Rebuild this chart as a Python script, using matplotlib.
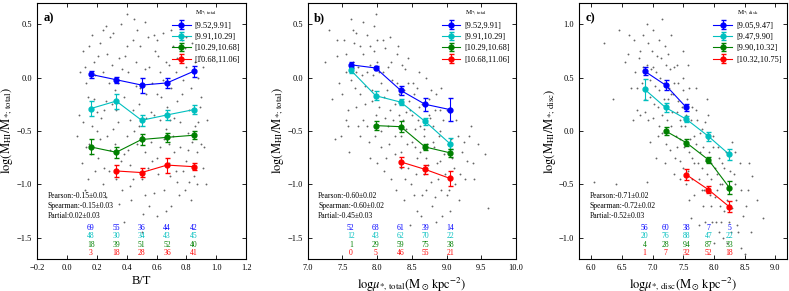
import matplotlib
matplotlib.use('Agg')
import matplotlib.pyplot as plt
import numpy as np

plt.rcParams['font.family'] = ['Liberation Serif', 'DejaVu Serif']
plt.rcParams['mathtext.fontset'] = 'stix'

colors = ['b', 'c', 'g', 'r']

# panel a: B/T
bins_a = [0.16, 0.33, 0.50, 0.67, 0.85]
labels_a = ['[9.52,9.91]', '[9.91,10.29]', '[10.29,10.68]', '[10.68,11.06]']
y_a = [[0.03, -0.02, -0.07, -0.05, 0.06],
       [-0.29, -0.22, -0.40, -0.35, -0.30],
       [-0.65, -0.70, -0.58, -0.56, -0.54],
       [np.nan, -0.875, -0.89, -0.82, -0.835]]
e_a = [[0.03, 0.03, 0.07, 0.05, 0.05],
       [0.07, 0.07, 0.05, 0.05, 0.04],
       [0.07, 0.05, 0.05, 0.04, 0.04],
       [0, 0.06, 0.04, 0.07, 0.03]]
n_a = [[69, 55, 36, 44, 42], [48, 30, 34, 43, 45], [18, 39, 51, 52, 40], [3, 18, 28, 36, 41]]
stats_a = ['Pearson:-0.15±0.03', 'Spearman:-0.15±0.03', 'Partial:0.02±0.03']

# panel b: log mu total
bins_b = [7.62, 7.98, 8.34, 8.69, 9.05]
labels_b = labels_a
y_b = [[0.12, 0.09, -0.12, -0.25, -0.30],
       [0.07, -0.17, -0.23, -0.41, -0.62],
       [np.nan, -0.45, -0.46, -0.65, -0.705],
       [np.nan, np.nan, -0.79, -0.86, -0.945]]
e_b = [[0.03, 0.02, 0.04, 0.06, 0.11],
       [0.03, 0.04, 0.03, 0.03, 0.05],
       [0, 0.04, 0.05, 0.03, 0.04],
       [0, 0, 0.05, 0.04, 0.07]]
n_b = [[52, 68, 61, 39, 14], [12, 43, 62, 70, 22], [1, 29, 59, 75, 38], [0, 5, 46, 55, 21]]
stats_b = ['Pearson:-0.60±0.02', 'Spearman:-0.60±0.02', 'Partial:-0.45±0.03']

# panel c: log mu disc
bins_c = [6.87, 7.21, 7.55, 7.91, 8.25]
labels_c = ['[9.05,9.47]', '[9.47,9.90]', '[9.90,10.32]', '[10.32,10.75]']
y_c = [[0.56, 0.43, 0.22, np.nan, np.nan],
       [0.39, 0.22, 0.11, -0.05, -0.22],
       [np.nan, 0.0, -0.11, -0.27, -0.53],
       [np.nan, np.nan, -0.41, -0.55, -0.71]]
e_c = [[0.04, 0.05, 0.03, 0, 0],
       [0.10, 0.04, 0.03, 0.04, 0.05],
       [0, 0.04, 0.03, 0.03, 0.06],
       [0, 0, 0.05, 0.03, 0.05]]
n_c = [[56, 60, 38, 7, 5], [20, 76, 88, 47, 22], [4, 28, 94, 87, 33], [1, 7, 32, 52, 18]]
stats_c = ['Pearson:-0.71±0.02', 'Spearman:-0.72±0.02', 'Partial:-0.52±0.03']

# background galaxies (approximate)
bg_a = [(0.08,-0.35),(0.12,0.10),(0.15,-0.62),(0.18,-0.20),(0.22,0.32),(0.25,-0.85),(0.28,-0.05),
        (0.31,-0.48),(0.35,0.18),(0.38,-0.72),(0.41,0.05),(0.44,-0.30),(0.47,0.45),(0.50,-0.95),
        (0.53,-0.15),(0.56,-0.60),(0.59,0.25),(0.62,-0.40),(0.65,-1.05),(0.68,0.12),(0.71,-0.55),
        (0.74,-0.22),(0.77,0.35),(0.80,-0.78),(0.83,-0.10),(0.86,-0.45),(0.89,0.20),(0.92,-0.65),
        (0.10,-0.80),(0.13,-0.05),(0.17,0.40),(0.20,-0.50),(0.24,-1.00),(0.27,0.22),(0.30,-0.25),
        (0.33,-0.95),(0.36,0.50),(0.40,-0.55),(0.43,-1.15),(0.46,-0.08),(0.49,0.30),(0.52,-0.70),
        (0.55,0.10),(0.58,-0.35),(0.61,-0.90),(0.64,0.42),(0.67,-0.28),(0.70,-1.20),(0.73,0.05),
        (0.76,-0.65),(0.79,0.28),(0.82,-0.98),(0.85,-0.30),(0.88,0.00),(0.91,-0.85),(0.94,-0.40),
        (0.07,-0.55),(0.11,0.25),(0.14,-0.95),(0.19,0.02),(0.23,-0.38),(0.26,0.48),(0.29,-0.68),
        (0.32,-0.12),(0.37,-1.05),(0.39,0.20),(0.42,-0.82),(0.45,0.55),(0.48,-0.45),(0.51,-1.28),
        (0.54,0.38),(0.57,-0.05),(0.60,-0.75),(0.63,-0.18),(0.66,0.15),(0.69,-0.92),(0.72,-0.38),
        (0.75,-1.10),(0.78,-0.02),(0.81,-0.52),(0.84,0.32),(0.87,-0.70),(0.90,-0.18),(0.93,-1.00),
        (0.09,0.05),(0.16,-0.28),(0.21,-0.75),(0.34,-0.42),(0.47,-0.62),(0.58,-1.08),(0.62,0.05),
        (0.71,0.30),(0.83,-1.15),(0.38,-1.35),(0.50,-1.45),(0.55,-1.20),(0.44,0.35),(0.27,-0.55),
        (0.68,-0.62),
        (0.11,-0.42),(0.14,-0.18),(0.16,-0.72),(0.18,0.15),(0.20,-0.32),(0.22,-0.58),(0.24,0.05),
        (0.26,-0.22),(0.28,-0.88),(0.30,0.12),(0.32,-0.62),(0.34,-0.05),(0.36,-0.78),(0.38,-0.18),
        (0.40,0.30),(0.42,-0.40),(0.44,-0.95),(0.46,0.15),(0.48,-0.25),(0.50,-0.55),(0.52,0.08),
        (0.54,-0.85),(0.56,-0.32),(0.58,0.40),(0.60,-0.15),(0.62,-0.65),(0.64,-0.02),(0.66,-0.48),
        (0.68,-0.80),(0.70,-0.10),(0.72,-0.70),(0.74,0.18),(0.76,-0.42),(0.78,-0.88),(0.80,0.10),
        (0.82,-0.30),(0.84,-0.60),(0.86,0.15),(0.88,-0.42),(0.90,-0.62),(0.13,-0.65),(0.17,-0.45),
        (0.21,0.20),(0.25,-0.30),(0.29,0.38),(0.33,-0.30),(0.37,0.08),(0.41,-0.68),(0.45,-0.50),
        (0.49,-0.10),(0.53,-0.38),(0.57,-0.78),(0.61,0.20),(0.65,-0.58),(0.69,-0.40),(0.73,-0.88),
        (0.77,-0.15),(0.81,-0.68),(0.85,-0.92),(0.89,-0.28),(0.12,-1.05),(0.19,-0.88),(0.26,-1.12),
        (0.35,-1.18),(0.42,-1.02),(0.52,-1.10),(0.60,-1.30),(0.66,-1.25),(0.74,-0.98),(0.79,-1.05),
        (0.87,-1.00),(0.15,0.30),(0.24,0.45),(0.31,0.42),(0.40,0.60),(0.52,0.52),(0.60,0.35),
        (0.70,0.45),(0.80,0.38),(0.91,0.10)]
bg_b = [(7.30,0.45),(7.35,-0.20),(7.42,0.20),(7.48,-0.55),(7.52,0.35),(7.55,0.05),(7.58,-0.30),
        (7.62,0.55),(7.65,0.15),(7.68,-0.10),(7.72,-0.45),(7.75,0.30),(7.78,0.02),(7.82,-0.25),
        (7.85,0.40),(7.88,-0.60),(7.90,0.12),(7.93,-0.12),(7.96,0.25),(7.99,-0.35),(8.02,0.05),
        (8.05,-0.50),(8.08,0.35),(8.10,-0.18),(8.13,-0.75),(8.16,0.10),(8.19,-0.30),(8.22,-0.02),
        (8.25,-0.55),(8.28,0.22),(8.31,-0.15),(8.34,-0.85),(8.37,-0.40),(8.40,0.08),(8.43,-0.62),
        (8.46,-0.22),(8.49,-1.00),(8.52,-0.05),(8.55,-0.48),(8.58,-0.75),(8.61,-0.28),(8.64,-1.10),
        (8.67,-0.55),(8.70,0.00),(8.73,-0.82),(8.76,-0.38),(8.79,-1.20),(8.82,-0.65),(8.85,-0.15),
        (8.88,-0.95),(8.91,-0.50),(8.94,-1.30),(8.97,-0.72),(9.00,-0.30),(9.03,-1.05),(9.06,-0.58),
        (9.10,-0.85),(9.14,-0.40),(9.18,-1.15),(9.22,-0.70),(9.27,-0.95),(9.32,-0.55),(9.38,-0.80),
        (9.45,-0.62),(9.60,-1.22),(7.45,-0.05),(7.60,-0.70),(7.70,0.42),(7.80,-0.40),(7.95,0.48),
        (8.00,-0.80),(8.12,0.28),(8.20,-0.95),(8.30,0.30),(8.38,-1.15),(8.45,0.18),(8.50,-0.35),
        (8.60,0.05),(8.68,-0.90),(8.75,-0.20),(8.85,-1.35),(8.92,-0.10),(9.05,-1.25),(8.15,-0.45),
        (8.25,-0.25),(8.35,-0.55),(8.42,-0.32),(8.55,-0.65),(8.62,-0.45),(8.72,-0.62),(8.80,-0.45),
        (8.90,-0.78),(7.85,0.05),(7.75,-0.15),(8.05,-0.05),(8.48,-1.38),(8.58,-1.25),(7.40,-0.58),
        (7.25,0.15),(9.55,-0.72),
        (7.50,-0.15),(7.55,0.22),(7.58,-0.45),(7.63,-0.02),(7.67,0.32),(7.70,-0.28),(7.73,0.10),
        (7.76,-0.55),(7.79,0.22),(7.83,-0.08),(7.86,-0.45),(7.89,0.30),(7.92,-0.22),(7.94,0.02),
        (7.97,-0.55),(8.00,0.15),(8.03,-0.28),(8.06,-0.65),(8.09,0.05),(8.11,-0.38),(8.14,-0.12),
        (8.17,-0.62),(8.20,0.15),(8.23,-0.40),(8.26,-0.72),(8.29,-0.05),(8.32,-0.35),(8.35,-0.70),
        (8.38,-0.12),(8.41,-0.48),(8.44,-0.85),(8.47,-0.30),(8.50,-0.60),(8.53,-0.15),(8.56,-0.90),
        (8.59,-0.40),(8.62,-0.70),(8.65,-0.25),(8.68,-0.48),(8.71,-0.75),(8.74,-0.35),(8.77,-0.98),
        (8.80,-0.60),(8.83,-0.30),(8.86,-0.80),(8.89,-0.55),(8.92,-1.05),(8.95,-0.40),(8.98,-0.90),
        (9.02,-0.62),(9.08,-0.75),(9.12,-1.00),(9.16,-0.55),(9.20,-0.90),(9.25,-0.60),(7.65,0.45),
        (7.80,0.52),(7.90,-0.75),(8.00,0.35),(8.10,-0.88),(8.27,-1.05),(8.40,-0.95),(8.53,-1.10),
        (8.63,-1.30),(8.70,-1.05),(8.84,-1.12),(9.00,-1.10),(8.45,-0.05),(8.58,-0.10),(8.36,0.12),
        (8.18,0.38),(7.98,0.60),(7.70,0.05),(7.55,-0.40),(7.42,0.35),(9.30,-0.78),(9.40,-0.95),
        (9.35,-0.45),(8.78,-0.12),(8.90,-0.30)]
bg_c = [(6.05,-0.48),(6.20,0.82),(6.35,0.30),(6.45,0.95),(6.55,0.65),(6.60,0.72),(6.65,0.40),
        (6.70,0.85),(6.72,0.55),(6.75,0.20),(6.78,0.68),(6.82,0.45),(6.85,0.90),(6.88,0.30),
        (6.90,0.62),(6.93,0.10),(6.96,0.48),(6.99,0.75),(7.02,0.25),(7.05,0.55),(7.08,-0.05),
        (7.10,0.38),(7.13,0.68),(7.16,0.15),(7.19,0.45),(7.22,-0.12),(7.25,0.30),(7.28,0.58),
        (7.30,0.05),(7.33,0.35),(7.36,-0.25),(7.39,0.18),(7.42,0.45),(7.45,-0.08),(7.48,0.22),
        (7.50,-0.35),(7.53,0.05),(7.56,0.30),(7.59,-0.20),(7.62,0.10),(7.65,-0.45),(7.68,-0.05),
        (7.71,0.20),(7.74,-0.30),(7.77,-0.02),(7.80,-0.55),(7.83,-0.15),(7.86,0.08),(7.89,-0.40),
        (7.92,-0.20),(7.95,-0.70),(7.98,-0.05),(8.01,-0.35),(8.04,-0.85),(8.07,-0.15),(8.10,-0.50),
        (8.13,-0.30),(8.16,-0.75),(8.20,-0.20),(8.24,-0.55),(8.28,-0.95),(8.32,-0.40),(8.36,-0.65),
        (8.42,-0.30),(8.48,-0.80),(8.55,-0.55),(8.62,-0.42),(8.80,-0.82),(6.90,-0.48),(7.00,0.95),
        (7.15,1.05),(7.35,0.60),(7.50,0.50),(7.60,-0.65),(7.70,0.40),(7.85,-0.85),(7.90,0.15),
        (8.00,-1.05),(8.05,-0.55),(7.75,-0.88),(7.55,-0.50),(7.40,-0.15),(7.20,0.80),(7.05,-0.25),
        (8.15,-1.00),(8.30,-0.10),(8.45,-1.10),(7.65,-0.25),(7.45,0.10),(7.30,0.35),(7.80,-0.35),
        (7.95,-0.45),(8.10,-0.70),(6.80,0.15),(7.58,0.62),(8.25,-0.85),(8.60,-0.95),(6.40,-0.50),
        (7.10,0.85),(8.50,-1.15),
        (6.75,0.40),(6.80,0.75),(6.84,0.60),(6.87,0.18),(6.92,0.82),(6.95,0.32),(6.98,0.58),
        (7.01,0.12),(7.04,0.42),(7.07,0.70),(7.09,0.22),(7.12,0.50),(7.15,-0.02),(7.18,0.30),
        (7.21,0.62),(7.24,0.10),(7.27,0.40),(7.29,-0.18),(7.32,0.18),(7.35,0.45),(7.38,-0.05),
        (7.41,0.28),(7.44,-0.28),(7.47,0.05),(7.49,0.38),(7.52,-0.15),(7.55,0.15),(7.58,-0.38),
        (7.61,-0.08),(7.64,0.22),(7.67,-0.30),(7.70,-0.12),(7.72,0.10),(7.75,-0.45),(7.78,-0.20),
        (7.81,0.02),(7.84,-0.55),(7.87,-0.28),(7.90,-0.08),(7.93,-0.60),(7.96,-0.30),(7.99,-0.15),
        (8.02,-0.62),(8.05,-0.40),(8.08,-0.25),(8.11,-0.85),(8.14,-0.50),(8.17,-0.35),(8.21,-0.65),
        (8.26,-0.38),(8.30,-0.72),(8.34,-0.50),(8.38,-0.88),(8.44,-0.55),(8.52,-0.70),(8.58,-0.30),
        (7.00,0.60),(7.10,0.05),(7.25,0.72),(7.40,0.62),(7.45,-0.45),(7.60,0.40),(7.68,-0.60),
        (7.82,-0.70),(7.88,0.30),(7.97,-0.85),(8.08,-0.95),(8.22,-1.05),(8.35,-0.20),(7.62,-0.82),
        (7.35,-0.40),(7.20,-0.30),(6.95,-0.10),(6.62,0.90),(6.68,0.10),(8.70,-0.65),(8.40,-0.95),
        (7.50,0.75),(7.30,0.90),(6.90,1.00)]


def draw_panel(ax, bg, bins, ys, es, ns, labels, stats, title, tag, xlim, ylim, xticks, yticks, xlabel, ylabel):
    bx = [p[0] for p in bg]
    by = [p[1] for p in bg]
    ax.scatter(bx, by, s=1.8, color='0.4', lw=0, zorder=1)
    for k in range(4):
        # bins with fewer than 10 galaxies are not drawn
        x = [bins[i] for i in range(5) if ns[k][i] >= 10]
        y = [ys[k][i] for i in range(5) if ns[k][i] >= 10]
        e = [es[k][i] for i in range(5) if ns[k][i] >= 10]
        ax.errorbar(x, y, yerr=e, color=colors[k], marker='o', ms=3.5, lw=0.8,
                    capsize=1.8, elinewidth=0.8, label=labels[k], zorder=3)
    for j, s in enumerate(stats):
        ax.text(0.05, 0.245 - j * 0.039, s, transform=ax.transAxes, fontsize=5.5,
                va='center', ha='left')
    trans = ax.get_xaxis_transform()
    for k in range(4):
        for i in range(5):
            ax.text(bins[i], 0.12 - k * 0.032, str(ns[k][i]), transform=trans,
                    fontsize=5.5, color=colors[k], ha='center', va='center')
    ax.legend(loc='upper right', frameon=False, fontsize=6, title=title,
              title_fontsize=5, handlelength=2.2, borderaxespad=0.3,
              labelspacing=0.4, handletextpad=0.5)
    ax.text(0.03, 0.94, tag, transform=ax.transAxes, fontsize=9, fontweight='bold',
            va='center', ha='left')
    ax.set_xlim(xlim)
    ax.set_ylim(ylim)
    ax.set_xticks(xticks)
    ax.set_yticks(yticks)
    ax.tick_params(direction='in', top=True, right=True, labelsize=6, length=3, width=0.6)
    for sp in ax.spines.values():
        sp.set_linewidth(0.8)
    ax.set_xlabel(xlabel, fontsize=9, labelpad=2)
    ax.set_ylabel(ylabel, fontsize=9, labelpad=1)


fig = plt.figure(figsize=(7.89, 2.91), dpi=100)
ax1 = fig.add_axes([0.047, 0.11, 0.265, 0.88])
ax2 = fig.add_axes([0.390, 0.11, 0.264, 0.88])
ax3 = fig.add_axes([0.734, 0.11, 0.264, 0.88])

draw_panel(ax1, bg_a, bins_a, y_a, e_a, n_a, labels_a, stats_a, '$\\mathrm{M_{*;\\,total}}$', 'a)',
           (-0.2, 1.2), (-1.7, 0.7), np.arange(-0.2, 1.21, 0.2), [-1.5, -1.0, -0.5, 0.0, 0.5],
           'B/T', '$\\mathrm{log(M_{HI}/M_{*;\\,total})}$')
draw_panel(ax2, bg_b, bins_b, y_b, e_b, n_b, labels_b, stats_b, '$\\mathrm{M_{*;\\,total}}$', 'b)',
           (7.0, 10.0), (-1.7, 0.7), np.arange(7.0, 10.01, 0.5), [-1.5, -1.0, -0.5, 0.0, 0.5],
           '$\\mathrm{log}\\mu_{*,\\,\\mathrm{total}}\\mathrm{(M_\\odot\\,kpc^{-2})}$',
           '$\\mathrm{log(M_{HI}/M_{*;\\,total})}$')
draw_panel(ax3, bg_c, bins_c, y_c, e_c, n_c, labels_c, stats_c, '$\\mathrm{M_{*;\\,disk}}$', 'c)',
           (5.8, 9.2), (-1.2, 1.2), np.arange(6.0, 9.01, 0.5), [-1.0, -0.5, 0.0, 0.5, 1.0],
           '$\\mathrm{log}\\mu_{*,\\,\\mathrm{disc}}\\mathrm{(M_\\odot\\,kpc^{-2})}$',
           '$\\mathrm{log(M_{HI}/M_{*;\\,disc})}$')

fig.savefig('out.png', dpi=100)
